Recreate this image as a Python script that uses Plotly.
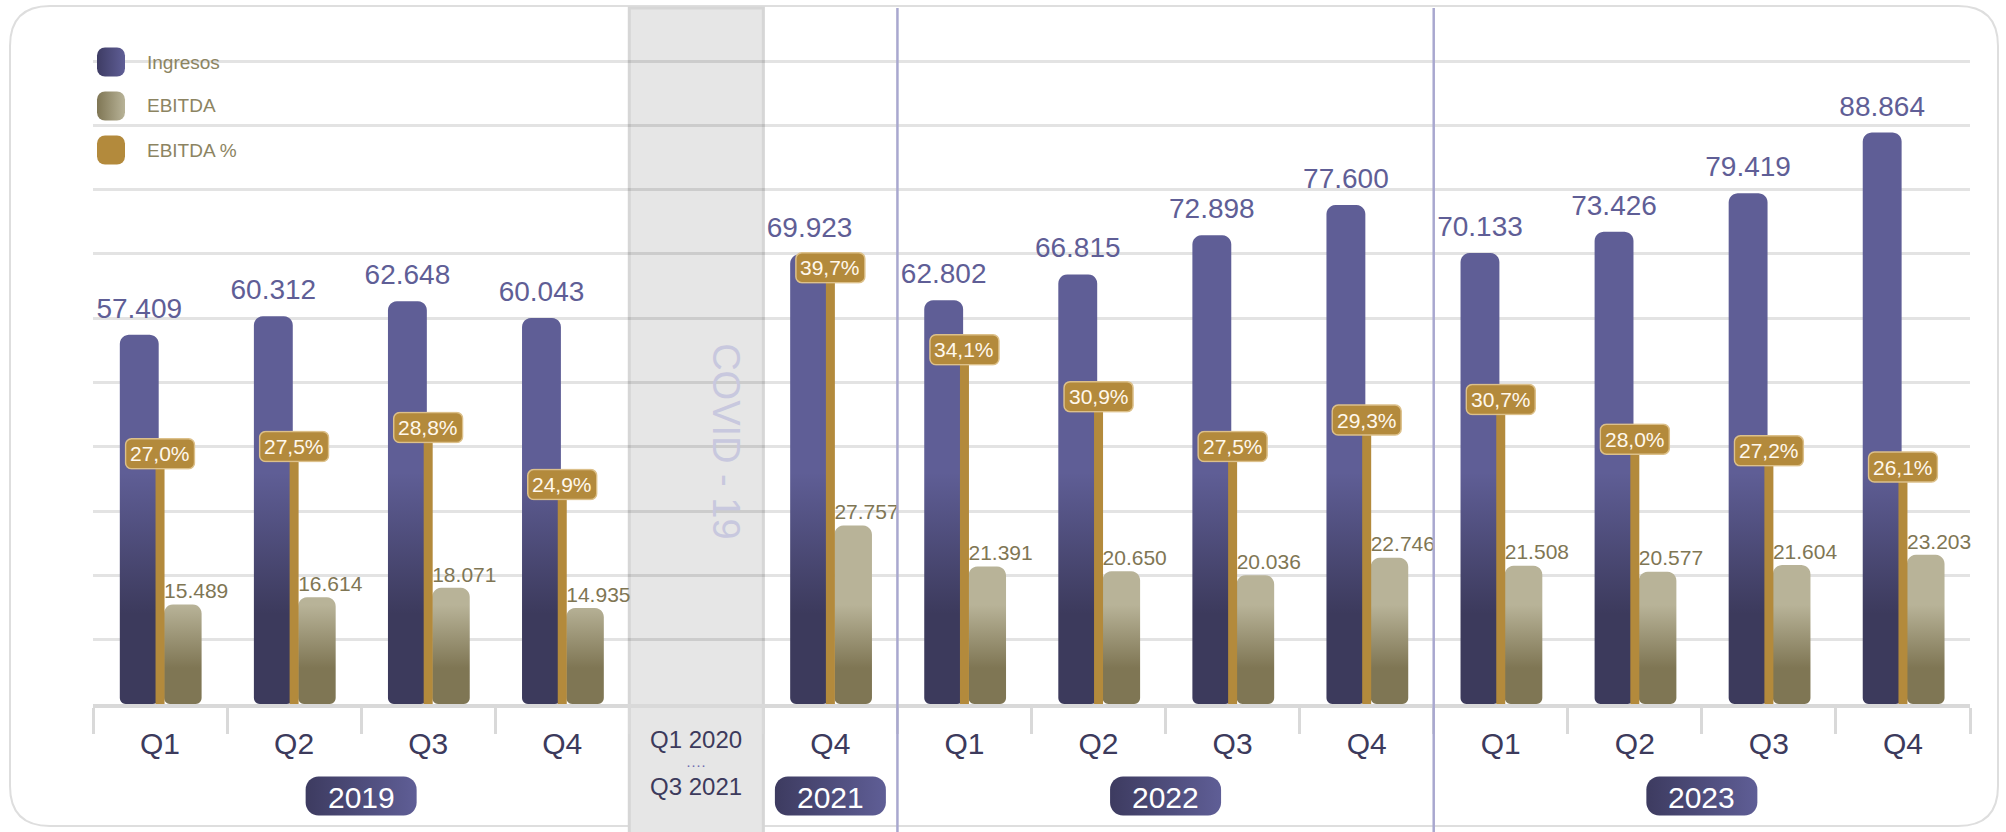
import base64
import math
import plotly.graph_objects as go

# %% Daten aus dem Bild

quartale = ["Q1", "Q2", "Q3", "Q4", "", "Q4", "Q1", "Q2", "Q3", "Q4", "Q1", "Q2", "Q3", "Q4"]
ingresos = [57409, 60312, 62648, 60043, None, 69923, 62802, 66815, 72898, 77600, 70133, 73426, 79419, 88864]
ebitda = [15489, 16614, 18071, 14935, None, 27757, 21391, 20650, 20036, 22746, 21508, 20577, 21604, 23203]
ebitda_pct = [27.0, 27.5, 28.8, 24.9, None, 39.7, 34.1, 30.9, 27.5, 29.3, 30.7, 28.0, 27.2, 26.1]
jahre = ["2019", "2021", "2022", "2023"]
jahr_spalten = [(0, 3), (5, 5), (6, 9), (10, 13)]
covid_spalte = 4
covid_label = ["Q1 2020", "Q3 2021"]
covid_text = "COVID - 19"
legende = ["Ingresos", "EBITDA", "EBITDA %"]

# %% Geometrie / Farben

W, H = 2006, 832
AXIS_Y, GRID_TOP = 704, 61
L, R, T, B = 93, 36, 55, H - 704
PW, PH = W - L - R, H - T - B
Y_MAX = 100000
P_MIN, P_GRID = 9.93, 53.8
N = len(quartale)
px_x = PW / N
px_y = (AXIS_Y - GRID_TOP) / Y_MAX
px_p = (AXIS_Y - GRID_TOP) / (P_GRID - P_MIN)
Y_TOP = PH / px_y
P_TOP = P_MIN + PH / px_p

FONT = "Liberation Sans, Arial, sans-serif"
LILA = "#5f5e96"
LILA_D = "#3c3a5c"
BEIGE = "#b8b398"
OLIV = "#7f7654"
GOLD = "#b38a3c"
NAVY = "#3c3a5c"


def pap_x(px):
    return (px - L) / PW


def pap_y(py):
    return (AXIS_Y - py) / PH


def svg_src(w, h, r, c0, c1, stroke=None):
    s = f'stroke="{stroke}" stroke-width="1.5"' if stroke else ""
    svg = (f'<svg xmlns="http://www.w3.org/2000/svg" width="{w}" height="{h}" viewBox="0 0 {w} {h}" preserveAspectRatio="none">'
           f'<defs><linearGradient id="g" x1="0" y1="0" x2="1" y2="0"><stop offset="0" stop-color="{c0}"/>'
           f'<stop offset="1" stop-color="{c1}"/></linearGradient></defs>'
           f'<rect x="1" y="1" width="{w - 2}" height="{h - 2}" rx="{r}" ry="{r}" fill="url(#g)" {s}/></svg>')
    return "data:image/svg+xml;base64," + base64.b64encode(svg.encode()).decode()


def bar_polygon(x0, x1, top, r_top=9, r_bot=6):
    xs, ys = [], []

    def arc(cx, cy, rx, ry, a0, a1):
        for k in range(7):
            a = math.radians(a0 + (a1 - a0) * k / 6)
            xs.append(cx + rx * math.cos(a))
            ys.append(cy + ry * math.sin(a))

    rxt, ryt = r_top / px_x, r_top / px_y
    rxb, ryb = r_bot / px_x, r_bot / px_y
    arc(x0 + rxb, ryb, rxb, ryb, 180, 270)
    arc(x1 - rxb, ryb, rxb, ryb, 270, 360)
    arc(x1 - rxt, top - ryt, rxt, ryt, 0, 90)
    arc(x0 + rxt, top - ryt, rxt, ryt, 90, 180)
    xs.append(None)
    ys.append(None)
    return xs, ys


def fmt_num(v):
    return f"{v:,}".replace(",", ".")


def fmt_pct(p):
    return f"{p:.1f}".replace(".", ",") + "%"


fig = go.Figure()

# Balken Ingresos / EBITDA als Polygone mit Verlauf
ing_x, ing_y, eb_x, eb_y = [], [], [], []
for i in range(N):
    if ingresos[i] is None:
        continue
    xs, ys = bar_polygon(i - 0.30, i - 0.01, ingresos[i])
    ing_x += xs
    ing_y += ys
    xs, ys = bar_polygon(i + 0.03, i + 0.31, ebitda[i])
    eb_x += xs
    eb_y += ys

fig.add_trace(go.Scatter(x=ing_x, y=ing_y, mode="none", fill="toself", hoverinfo="skip",
                         fillgradient=dict(type="vertical", start=14000, stop=36000,
                                           colorscale=[[0, LILA_D], [1, LILA]])))
fig.add_trace(go.Scatter(x=eb_x, y=eb_y, mode="none", fill="toself", hoverinfo="skip",
                         fillgradient=dict(type="vertical", start=5600, stop=15400,
                                           colorscale=[[0, OLIV], [1, BEIGE]])))

# Werte-Beschriftungen
idx = [i for i in range(N) if ingresos[i] is not None]
fig.add_trace(go.Scatter(x=[i - 0.155 for i in idx], y=[ingresos[i] + 10 / px_y for i in idx],
                         mode="text", text=[fmt_num(ingresos[i]) for i in idx], textposition="top center",
                         textfont=dict(family=FONT, size=28, color=LILA), hoverinfo="skip", cliponaxis=False))
fig.add_trace(go.Scatter(x=[i + 0.03 for i in idx], y=[ebitda[i] + 1 / px_y for i in idx],
                         mode="text", text=[fmt_num(ebitda[i]) for i in idx], textposition="top right",
                         textfont=dict(family=FONT, size=21, color=OLIV), hoverinfo="skip", cliponaxis=False))

# EBITDA % Linien
gx, gy = [], []
for i in idx:
    gx += [i, i, None]
    gy += [P_MIN, ebitda_pct[i], None]
fig.add_trace(go.Scatter(x=gx, y=gy, yaxis="y2", mode="lines", line=dict(color=GOLD, width=9),
                         hoverinfo="skip"))

images = []
annotations = []

# Prozent-Boxen
box_src = svg_src(71, 32, 6, GOLD, GOLD, stroke="#dcc08a")
for i in idx:
    images.append(dict(source=box_src, xref="x", yref="y2", x=i, y=ebitda_pct[i],
                       sizex=71 / px_x, sizey=32 / px_p, xanchor="center", yanchor="middle",
                       sizing="stretch", layer="above"))
    annotations.append(dict(x=i, y=ebitda_pct[i], xref="x", yref="y2", text=fmt_pct(ebitda_pct[i]),
                            showarrow=False, yanchor="middle", font=dict(family=FONT, size=21, color="#fff8ec")))

# Jahres-Badges
badge_src = svg_src(113, 41, 13, "#3d3b60", LILA)
for jahr, (a, b) in zip(jahre, jahr_spalten):
    xc = (a + b) / 2
    images.append(dict(source=badge_src, xref="x", yref="paper", x=xc, y=pap_y(796),
                       sizex=113 / px_x, sizey=41 / PH, xanchor="center", yanchor="middle",
                       sizing="stretch", layer="below"))
    annotations.append(dict(x=xc, y=pap_y(797), xref="x", yref="paper", text=jahr, showarrow=False,
                            yanchor="middle", font=dict(family=FONT, size=30, color="white")))

# Legende
leg_cols = [("#3e3c64", LILA), (OLIV, BEIGE), (GOLD, GOLD)]
for k, (name, (c0, c1)) in enumerate(zip(legende, leg_cols)):
    yc = 62 + 44 * k
    images.append(dict(source=svg_src(30, 31, 8, c0, c1), xref="paper", yref="paper",
                       x=pap_x(96), y=pap_y(yc), sizex=30 / PW, sizey=31 / PH,
                       xanchor="left", yanchor="middle", sizing="stretch", layer="above"))
    annotations.append(dict(x=pap_x(145), y=pap_y(yc), xref="paper", yref="paper", text=name,
                            showarrow=False, xanchor="left", yanchor="middle",
                            font=dict(family=FONT, size=19, color="#8c8462")))

# COVID Spalte
annotations.append(dict(x=covid_spalte + 0.22, y=pap_y(441), xref="x", yref="paper", text=covid_text,
                        textangle=90, showarrow=False, yanchor="middle",
                        font=dict(family=FONT, size=38, color="#c8c8de")))
annotations.append(dict(x=covid_spalte, y=pap_y(739), xref="x", yref="paper", text=covid_label[0],
                        showarrow=False, yanchor="middle", font=dict(family=FONT, size=24, color=NAVY)))
annotations.append(dict(x=covid_spalte, y=pap_y(764), xref="x", yref="paper", text="\u00b7\u00b7\u00b7\u00b7",
                        showarrow=False, yanchor="middle", font=dict(family=FONT, size=15, color="#6d6cb0")))
annotations.append(dict(x=covid_spalte, y=pap_y(787), xref="x", yref="paper", text=covid_label[1],
                        showarrow=False, yanchor="middle", font=dict(family=FONT, size=24, color=NAVY)))

shapes = []
# Karte
x0, x1, y0, y1, r = pap_x(10), pap_x(1998), pap_y(826), pap_y(6), 40
rx, ry = r / PW, r / PH
shapes.append(dict(type="path", xref="paper", yref="paper", layer="below",
                   path=(f"M {x0},{y0 + ry} L {x0},{y1 - ry} Q {x0},{y1} {x0 + rx},{y1} "
                         f"L {x1 - rx},{y1} Q {x1},{y1} {x1},{y1 - ry} L {x1},{y0 + ry} "
                         f"Q {x1},{y0} {x1 - rx},{y0} L {x0 + rx},{y0} Q {x0},{y0} {x0},{y0 + ry} Z"),
                   line=dict(color="#dedede", width=2)))
# COVID Band
shapes.append(dict(type="rect", xref="x", yref="paper", x0=covid_spalte - 0.5, x1=covid_spalte + 0.5,
                   y0=pap_y(834), y1=pap_y(8), fillcolor="#e6e6e6", line=dict(color="#d6d6d6", width=3),
                   layer="below"))
# Gitterlinien hinter der Legende abdecken
shapes.append(dict(type="rect", xref="paper", yref="paper", x0=pap_x(60), x1=pap_x(272),
                   y0=pap_y(150), y1=pap_y(40), fillcolor="white", line=dict(width=0), layer="between"))
# Jahres-Trennlinien (2021|2022, 2022|2023)
for a, b in jahr_spalten[2:]:
    shapes.append(dict(type="line", xref="x", yref="paper", x0=a - 0.5, x1=a - 0.5,
                       y0=pap_y(834), y1=pap_y(8), line=dict(color="#a9a8cf", width=2.5), layer="above"))

fig.update_layout(
    width=W, height=H, autosize=False,
    margin=dict(l=L, r=R, t=T, b=B),
    paper_bgcolor="white", plot_bgcolor="rgba(0,0,0,0)",
    showlegend=False,
    font=dict(family=FONT),
    images=images, annotations=annotations, shapes=shapes,
    xaxis=dict(range=[-0.5, N - 0.5], tickmode="array", tickvals=list(range(N)), ticktext=quartale,
               tickfont=dict(family=FONT, size=30, color=NAVY), ticks="", ticklabelstandoff=10,
               showgrid=False, zeroline=False, showline=True, linecolor="#d9d9d9", linewidth=4,
               minor=dict(tickmode="array", tickvals=[i - 0.5 for i in range(N + 1)], ticks="outside",
                          ticklen=26, tickwidth=3, tickcolor="#d9d9d9", showgrid=False),
               fixedrange=True),
    yaxis=dict(range=[0, Y_TOP], tickmode="array", tickvals=list(range(0, Y_MAX + 1, 10000)),
               showticklabels=False, showgrid=True, gridcolor="rgba(0,0,0,0.11)", gridwidth=3,
               zeroline=False, fixedrange=True),
    yaxis2=dict(range=[P_MIN, P_TOP], overlaying="y", visible=False, fixedrange=True),
)

fig.write_html("out.html", config={"displayModeBar": False},
               post_script="document.body.style.margin='0';")
